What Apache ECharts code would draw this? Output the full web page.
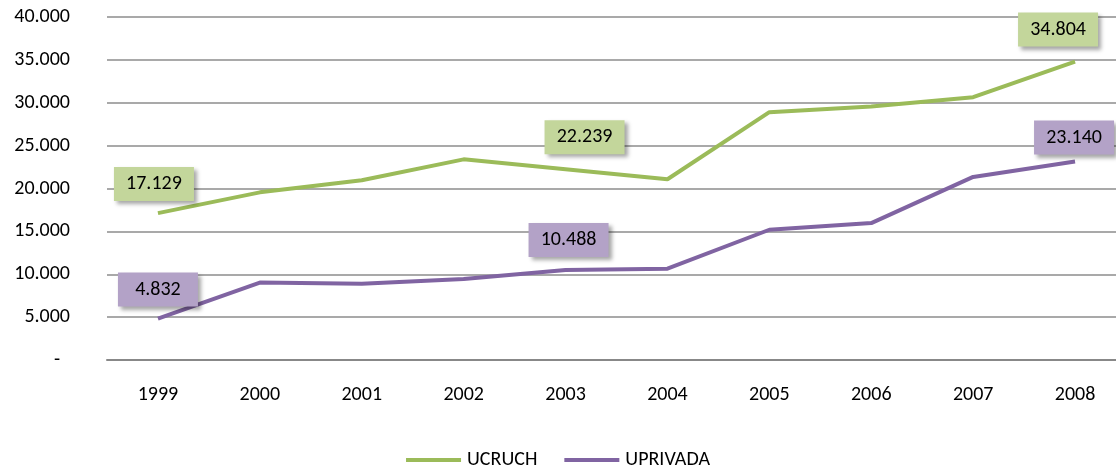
<!DOCTYPE html>
<html>
<head>
<meta charset="utf-8">
<script src="https://cdn.jsdelivr.net/npm/echarts@6/dist/echarts.min.js"></script>
<style>
html,body{margin:0;padding:0;background:#fff;}
#chart{width:1116px;height:469px;}
</style>
</head>
<body>
<div id="chart"></div>
<script>
const years = ['1999','2000','2001','2002','2003','2004','2005','2006','2007','2008'];
const ucruch = [17129, 19550, 20970, 23400, 22239, 21080, 28900, 29570, 30650, 34804];
const uprivada = [4832, 9030, 8900, 9450, 10488, 10650, 15190, 15970, 21350, 23140];
const yTicks = [0, 5000, 10000, 15000, 20000, 25000, 30000, 35000, 40000];
const ucruchLabeled = [0, 4, 9];
const uprivadaLabeled = [0, 4, 9];

const labelOffsets = {
  ucruch: {0: [-4, -29], 4: [19, -32], 9: [-17, -32]},
  uprivada: {0: [0, -29], 4: [3, -30], 9: [-1, -24]}
};

function fmt(v) {
  return String(Math.round(v)).replace(/\B(?=(\d{3})+(?!\d))/g, '.');
}

const FONT = 'Carlito, Calibri, Lato, "Open Sans", sans-serif';

function buildData(values, labeled, offsets, bg) {
  return values.map((v, i) => {
    if (labeled.indexOf(i) < 0) return v;
    return {
      value: v,
      label: {
        show: true,
        position: 'inside',
        offset: offsets[i],
        formatter: fmt(v),
        color: '#000',
        fontSize: 20,
        lineHeight: 20,
        fontFamily: FONT,
        backgroundColor: bg,
        width: 60,
        align: 'center',
        padding: [8, 10, 6, 10],
        shadowColor: 'rgba(0,0,0,0.35)',
        shadowBlur: 4,
        shadowOffsetX: 3,
        shadowOffsetY: 3
      }
    };
  });
}

const chart = echarts.init(document.getElementById('chart'), null, {renderer: 'canvas'});
chart.setOption({
  animation: false,
  backgroundColor: '#fff',
  grid: {left: 107, top: 17, width: 1019, height: 343, containLabel: false, outerBoundsMode: 'none'},
  legend: {
    top: 445,
    left: 'center',
    itemGap: 27,
    itemWidth: 55,
    itemHeight: 4,
    icon: 'rect',
    textStyle: {fontSize: 20, fontFamily: FONT, color: '#000', padding: [0,0,0,1]},
    data: ['UCRUCH', 'UPRIVADA']
  },
  xAxis: {
    type: 'category',
    data: years,
    boundaryGap: true,
    axisTick: {show: false},
    axisLine: {show: true, lineStyle: {color: '#888', width: 2}},
    axisLabel: {fontSize: 20, fontFamily: FONT, color: '#000', margin: 25}
  },
  yAxis: {
    type: 'value',
    min: yTicks[0],
    max: yTicks[yTicks.length - 1],
    interval: yTicks[1] - yTicks[0],
    axisLine: {show: false},
    axisTick: {show: false},
    splitLine: {lineStyle: {color: '#8c8c8c', width: 1.5}},
    axisLabel: {
      fontSize: 20, fontFamily: FONT, color: '#000', margin: 37,
      formatter: v => v === 0 ? '{d|-}' : fmt(v),
      rich: {d: {fontSize: 20, fontFamily: FONT, color: '#000', padding: [0, 10, 0, 0]}}
    }
  },
  series: [
    {
      name: 'UCRUCH',
      type: 'line',
      data: buildData(ucruch, ucruchLabeled, labelOffsets.ucruch, '#c3d69b'),
      symbol: 'circle',
      symbolSize: 0,
      showSymbol: true,
      lineStyle: {color: '#9bbb59', width: 4},
      itemStyle: {color: '#9bbb59'},
      z: 3
    },
    {
      name: 'UPRIVADA',
      type: 'line',
      data: buildData(uprivada, uprivadaLabeled, labelOffsets.uprivada, '#b3a2c7'),
      symbol: 'circle',
      symbolSize: 0,
      showSymbol: true,
      lineStyle: {color: '#8064a2', width: 4},
      itemStyle: {color: '#8064a2'},
      z: 3
    }
  ]
});
</script>
</body>
</html>
